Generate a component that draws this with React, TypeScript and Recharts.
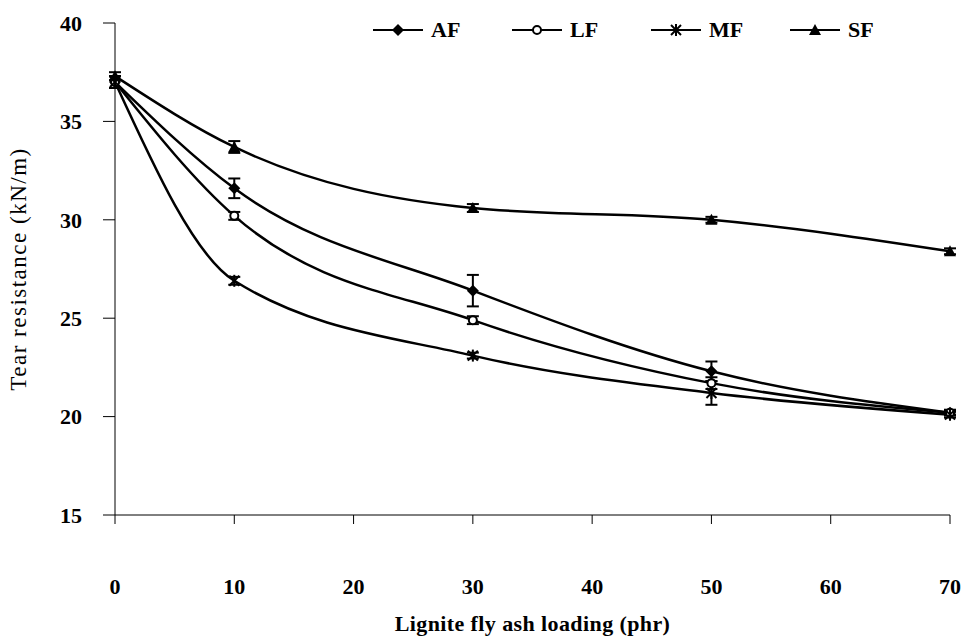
import { LineChart, Line, XAxis, YAxis, ErrorBar, Label } from 'recharts';

const loading = [0, 10, 30, 50, 70];
const xTicks = [0, 10, 20, 30, 40, 50, 60, 70];
const yTicks = [15, 20, 25, 30, 35, 40];

const af = [37.0, 31.6, 26.4, 22.3, 20.2];
const afErr = [0.3, 0.5, 0.8, 0.5, 0.15];
const lf = [37.0, 30.2, 24.9, 21.7, 20.2];
const lfErr = [0.3, 0.2, 0.2, 0.3, 0.1];
const mf = [37.0, 26.9, 23.1, 21.2, 20.1];
const mfErr = [0.3, 0.2, 0.15, 0.6, 0.15];
const sf = [37.3, 33.7, 30.6, 30.0, 28.4];
const sfErr = [0.2, 0.3, 0.2, 0.15, 0.15];

const data = loading.map((x, i) => ({
  x,
  af: af[i], afErr: afErr[i],
  lf: lf[i], lfErr: lfErr[i],
  mf: mf[i], mfErr: mfErr[i],
  sf: sf[i], sfErr: sfErr[i],
}));

const font = '"Liberation Serif", "Times New Roman", serif';

function Marker({ kind, cx, cy }: { kind: string; cx: number; cy: number }) {
  if (kind === 'af') {
    return <polygon points={`${cx},${cy - 6} ${cx + 6},${cy} ${cx},${cy + 6} ${cx - 6},${cy}`} fill="#000" />;
  }
  if (kind === 'lf') {
    return <circle cx={cx} cy={cy} r={4} fill="#fff" stroke="#000" strokeWidth={2} />;
  }
  if (kind === 'mf') {
    return (
      <g stroke="#000" strokeWidth={2}>
        <line x1={cx - 5} y1={cy - 5} x2={cx + 5} y2={cy + 5} />
        <line x1={cx - 5} y1={cy + 5} x2={cx + 5} y2={cy - 5} />
        <line x1={cx} y1={cy - 6} x2={cx} y2={cy + 6} />
      </g>
    );
  }
  return <polygon points={`${cx},${cy - 6} ${cx + 6},${cy + 5} ${cx - 6},${cy + 5}`} fill="#000" />;
}

const seriesList = [
  { key: 'af', name: 'AF' },
  { key: 'lf', name: 'LF' },
  { key: 'mf', name: 'MF' },
  { key: 'sf', name: 'SF' },
];

function LegendBox() {
  return (
    <div style={{ position: 'absolute', left: 372, top: 17, display: 'flex', fontFamily: font, fontWeight: 'bold', fontSize: 22, lineHeight: '26px' }}>
      {seriesList.map(s => (
        <div key={s.key} style={{ display: 'flex', alignItems: 'center', width: 139 }}>
          <svg width={52} height={16}>
            <line x1={1} y1={8} x2={51} y2={8} stroke="#000" strokeWidth={2} />
            <Marker kind={s.key} cx={26} cy={8} />
          </svg>
          <span style={{ marginLeft: 7 }}>{s.name}</span>
        </div>
      ))}
    </div>
  );
}

export default function App() {
  return (
    <div style={{ position: 'absolute', left: 0, top: 0, width: 968, height: 639, background: '#fff' }}>
      <LineChart width={968} height={639} data={data} margin={{ top: 23, right: 18, left: 55, bottom: 4 }}>
        <XAxis
          dataKey="x"
          type="number"
          domain={[0, 70]}
          ticks={xTicks}
          tickSize={9}
          tickMargin={54}
          height={120}
          stroke="#000"
          tick={{ fontSize: 22, fontWeight: 'bold', fill: '#000', fontFamily: font }}
        >
          <Label
            value="Lignite fly ash loading (phr)"
            position="insideBottom"
            offset={4}
            style={{ fontSize: 22, fontWeight: 'bold', fill: '#000', fontFamily: font, letterSpacing: 0.4 }}
          />
        </XAxis>
        <YAxis
          domain={[15, 40]}
          ticks={yTicks}
          tickSize={12}
          tickMargin={21}
          width={60}
          stroke="#000"
          tick={{ fontSize: 22, fontWeight: 'bold', fill: '#000', fontFamily: font }}
        >
          <Label
            value="Tear resistance (kN/m)"
            angle={-90}
            position="insideLeft"
            offset={-37}
            style={{ fontSize: 23, fill: '#000', fontFamily: font, textAnchor: 'middle', letterSpacing: 1.5 }}
          />
        </YAxis>
        {seriesList.map(s => (
          <Line
            key={s.key}
            type="monotone"
            dataKey={s.key}
            name={s.name}
            stroke="#000"
            strokeWidth={2.5}
            isAnimationActive={false}
            dot={(p: any) => <Marker key={p.index} kind={s.key} cx={p.cx} cy={p.cy} />}
            activeDot={false}
          >
            <ErrorBar dataKey={`${s.key}Err`} width={6} stroke="#000" strokeWidth={2} direction="y" />
          </Line>
        ))}
      </LineChart>
      <LegendBox />
    </div>
  );
}
